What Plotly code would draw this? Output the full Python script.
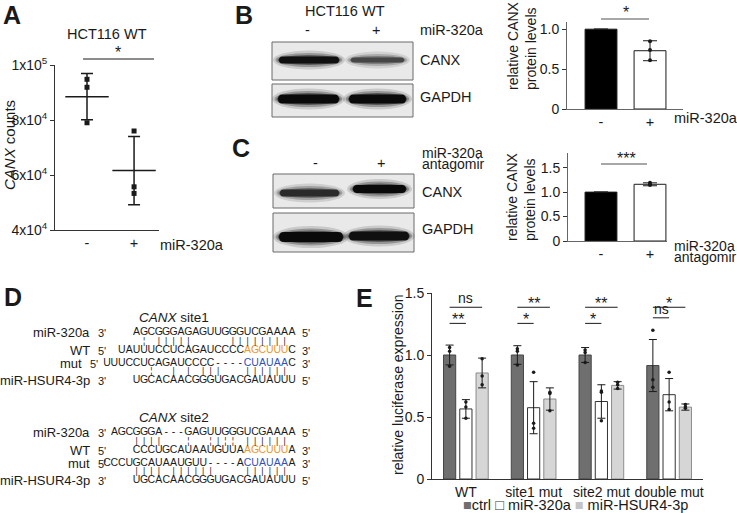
import plotly.graph_objects as go

W, H = 737, 513
FONT = 'Arial, Liberation Sans, sans-serif'
INK = '#1a1a1a'

# ---------------- data ----------------
# A: CANX read counts in HCT116 WT
a_labels = ['-', '+']
a_minus_pts = [94800, 91900, 79000]
a_plus_pts = [76000, 55700, 53300]
a_means = [88500, 61600]
a_sd = [8400, 12400]
a_ticks = [40000, 60000, 80000, 100000]
a_ticktext = ['4x10<sup>4</sup>', '6x10<sup>4</sup>', '8x10<sup>4</sup>', '1x10<sup>5</sup>']

# B: CANX protein after miR-320a
b_labels = ['-', '+']
b_values = [1.0, 0.73]
b_err = [0, 0.125]
b_pts = [0.85, 0.74, 0.61]

# C: CANX protein after miR-320a antagomir
c_labels = ['-', '+']
c_values = [1.0, 1.16]
c_err = [0, 0.03]
c_pts = [1.19, 1.15, 1.15]

# western blot band strength (0 = empty, 1 = saturated)
b_blot_canx = [0.97, 0.72]
b_blot_gapdh = [1.0, 1.0]
c_blot_canx = [0.85, 1.0]
c_blot_gapdh = [1.0, 0.97]

# D: alignments, (text, colour) segments per row
site1_mir320 = [('AGCGGGAGAGUUGGGUCGAAAA', INK)]
site1_wt = [('UAUUUCCUCAGAUCCCC', INK), ('AGCUUU', '#f0961e'), ('C', INK)]
site1_mut = [('UUUCCUCAGAUCCCC----', INK), ('CUAUAA', '#2f4fc0'), ('C', INK)]
site1_hsur = [('UGCACAACGGGUGACGAUAUUU', INK)]
site1_top = '     ¦ |||||     ||||||||'
site1_bot = '      ¦  | | |||   ||||||'

site2_mir320 = [('AGCGGGA---GAGUUGGGUCGAAAA', INK)]
site2_wt = [('CCCUGCAUAAUGUUA', INK), ('AGCUUU', '#f0961e'), ('A', INK)]
site2_mut = [('CCCUGCAUAAUGUU----A', INK), ('CUAUAA', '#2f4fc0'), ('A', INK)]
site2_hsur = [('UGCACAACGGGUGACGAUAUUU', INK)]
site2_top = '    ||||   ¦  ¦|¦¦ ||||||'
site2_bot = '    |||| ||||||    ||||||'

# E: luciferase reporter
e_groups = ['WT', 'site1 mut', 'site2 mut', 'double mut']
e_ctrl = [1.0, 1.0, 1.0, 0.915]
e_ctrl_err = [0.08, 0.075, 0.06, 0.21]
e_320a = [0.565, 0.575, 0.625, 0.68]
e_320a_err = [0.075, 0.21, 0.135, 0.13]
e_hsur = [0.855, 0.645, 0.755, 0.58]
e_hsur_err = [0.12, 0.09, 0.03, 0.025]
e_ctrl_pts = [[1.06, 1.03, 0.91], [1.05, 1.03, 0.92], [1.04, 1.02, 0.94], [1.2, 0.80, 0.74]]
e_320a_pts = [[0.62, 0.58, 0.49], [0.86, 0.45, 0.41], [0.71, 0.70, 0.47], [0.86, 0.62, 0.56]]
e_hsur_pts = [[0.97, 0.83, 0.76], [0.70, 0.69, 0.55], [0.78, 0.76, 0.73], [0.60, 0.58, 0.57]]


def px(x):
    return x / W


def py(y):
    return 1 - y / H


fig = go.Figure()
shapes = []
notes = []


def note(x, y, text, size=14.5, xanchor='center', yanchor='middle', **kw):
    notes.append(dict(x=px(x), y=py(y), xref='paper', yref='paper', text=text, showarrow=False,
                      xanchor=xanchor, yanchor=yanchor, font=dict(size=size, color=INK, family=FONT), **kw))


def hline(x0, x1, y, color=INK, width=1.2):
    shapes.append(dict(type='line', xref='paper', yref='paper', x0=px(x0), x1=px(x1), y0=py(y), y1=py(y),
                       line=dict(color=color, width=width)))


def blot_box(x0, y0, x1, y1):
    shapes.append(dict(type='rect', xref='paper', yref='paper', x0=px(x0), x1=px(x1), y0=py(y1), y1=py(y0),
                       fillcolor='#e9e9e9', line=dict(color='#6a6a6a', width=1)))


def band(x0, x1, yc, h, level):
    g = int(225 - 215 * level)
    # soft halo then rounded core
    for grow, op in [(6, 0.14), (3.5, 0.28), (1.5, 0.45)]:
        shapes.append(dict(type='circle', xref='paper', yref='paper', x0=px(x0 - grow), x1=px(x1 + grow),
                           y0=py(yc + h / 2 + grow), y1=py(yc - h / 2 - grow),
                           fillcolor=f'rgba({g},{g},{g},{op})', line_width=0))
    r = h / 2
    path = (f'M {px(x0 + r)},{py(yc - r)} L {px(x1 - r)},{py(yc - r)} '
            f'Q {px(x1)},{py(yc - r)} {px(x1)},{py(yc)} Q {px(x1)},{py(yc + r)} {px(x1 - r)},{py(yc + r)} '
            f'L {px(x0 + r)},{py(yc + r)} Q {px(x0)},{py(yc + r)} {px(x0)},{py(yc)} '
            f'Q {px(x0)},{py(yc - r)} {px(x0 + r)},{py(yc - r)} Z')
    shapes.append(dict(type='path', xref='paper', yref='paper', path=path,
                       fillcolor=f'rgb({g},{g},{g})', line_width=0))


# ---------------- panel letters ----------------
for letter, x, y in [('A', 12, 15), ('B', 244, 15), ('C', 241, 148), ('D', 13, 297), ('E', 364, 298)]:
    note(x, y, f'<b>{letter}</b>', size=25)

# ---------------- A ----------------
fig.add_trace(go.Scatter(x=[0, 1], y=a_means, mode='markers', xaxis='x', yaxis='y',
                         marker=dict(symbol='line-ew', size=31, line=dict(color=INK, width=1.5)),
                         error_y=dict(type='data', array=a_sd, color=INK, thickness=1.5, width=6)))
fig.add_trace(go.Scatter(x=[0] * len(a_minus_pts) + [1] * len(a_plus_pts), y=a_minus_pts + a_plus_pts,
                         mode='markers', xaxis='x', yaxis='y',
                         marker=dict(symbol='square', size=5, color=INK)))
note(107, 34, 'HCT116 WT')
hline(83, 154, 59)
note(118, 52, '*', size=16)
note(158, 245, 'miR-320a', xanchor='left')
note(9, 145, '<i>CANX</i> counts', size=15, textangle=-90)

# ---------------- B ----------------
note(345, 11, 'HCT116 WT')
note(307, 30, '-')
note(376, 30, '+')
note(418, 30, 'miR-320a', xanchor='left')
blot_box(272, 42, 413, 80)
blot_box(272, 84, 413, 117)
band(279, 339, 60, 7, b_blot_canx[0])
band(351, 404, 60, 5, b_blot_canx[1])
band(278, 339, 99, 9, b_blot_gapdh[0])
band(349, 406, 99, 9, b_blot_gapdh[1])
note(418, 60, 'CANX', xanchor='left')
note(418, 97, 'GAPDH', xanchor='left')

fig.add_trace(go.Bar(x=[0, 1], y=b_values, width=0.65, xaxis='x2', yaxis='y2',
                     marker=dict(color=['black', 'white'], line=dict(color=INK, width=1)),
                     error_y=dict(type='data', array=b_err, color=INK, thickness=1, width=7)))
fig.add_trace(go.Scatter(x=[1] * len(b_pts), y=b_pts, mode='markers', xaxis='x2', yaxis='y2',
                         marker=dict(size=4, color=INK)))
hline(601, 649, 19, color='#8a8a8a', width=1.5)
note(626, 12, '*', size=16)
note(672, 118, 'miR-320a', xanchor='left')
note(522, 46, 'relative CANX<br>protein levels', size=14, textangle=-90, align='left')

# ---------------- C ----------------
note(315, 163, '-')
note(381, 163, '+')
note(420, 152.5, 'miR-320a', size=14, xanchor='left')
note(420, 164, 'antagomir', size=14, xanchor='left')
blot_box(273, 174, 414, 208)
blot_box(273, 213, 414, 252)
band(280, 339, 193, 7, c_blot_canx[0])
band(353, 406, 189, 8, c_blot_canx[1])
band(279, 343, 237, 10, c_blot_gapdh[0])
band(349, 409, 236, 9, c_blot_gapdh[1])
note(420, 192, 'CANX', xanchor='left')
note(420, 229, 'GAPDH', xanchor='left')

fig.add_trace(go.Bar(x=[0, 1], y=c_values, width=0.65, xaxis='x3', yaxis='y3',
                     marker=dict(color=['black', 'white'], line=dict(color=INK, width=1)),
                     error_y=dict(type='data', array=c_err, color=INK, thickness=1, width=7)))
fig.add_trace(go.Scatter(x=[1] * len(c_pts), y=c_pts, mode='markers', xaxis='x3', yaxis='y3',
                         marker=dict(size=4, color=INK)))
hline(601, 647, 164, color='#8a8a8a', width=1.5)
note(626, 158, '***', size=16)
note(672, 245.5, 'miR-320a', size=14, xanchor='left')
note(672, 257, 'antagomir', size=14, xanchor='left')
note(521, 197, 'relative CANX<br>protein levels', size=14, textangle=-90, align='left')

# ---------------- D ----------------
COL0, COLW = 107, 7.4


def seq_row(segments, start, y):
    col = start
    for text, color in segments:
        fig.add_trace(go.Scatter(x=[col + i for i in range(len(text))], y=[y] * len(text), text=list(text),
                                 mode='text', xaxis='x4', yaxis='y4', hoverinfo='skip',
                                 textfont=dict(size=10.5, color=color, family=FONT)))
        col += len(text)


def mark_row(marks, y):
    cols = [i for i, ch in enumerate(marks) if ch != ' ']
    fig.add_trace(go.Scatter(x=cols, y=[y] * len(cols), text=[marks[i] for i in cols], mode='text',
                             xaxis='x4', yaxis='y4', hoverinfo='skip',
                             textfont=dict(size=8.5, color=INK, family=FONT)))


def site(title, rows, top, bot, y0, mut_shift):
    note(174, y0, title, size=13.5)
    ys = [y0 + 15, y0 + 33, y0 + 46, y0 + 63]
    names = [('miR-320a', "3'"), ('WT', "5'"), ('mut', "5'"), ('miR-HSUR4-3p', "3'")]
    ends = ["5'", "3'", "3'", "5'"]
    for r, ((segs, start), (name, p5), end, y) in enumerate(zip(rows, names, ends, ys)):
        seq_row(segs, start, y)
        shift = mut_shift if r == 2 else 0
        note(92 - shift, y, name, size=13, xanchor='right')
        note(96 - shift, y + 0.5, p5, size=11, xanchor='left')
        note(300, y + 0.5, end, size=11, xanchor='left')
    mark_row(top, y0 + 25)
    mark_row(bot, y0 + 55)


site('<i>CANX</i> site1', [(site1_mir320, 4), (site1_wt, 2), (site1_mut, 0), (site1_hsur, 4)],
     site1_top, site1_bot, 317, 8)
site('<i>CANX</i> site2', [(site2_mir320, 1), (site2_wt, 4), (site2_mut, 0), (site2_hsur, 4)],
     site2_top, site2_bot, 417, 0)

# ---------------- E ----------------
SLOT = (1 - 0.28) / 3
series = [('ctrl', e_ctrl, e_ctrl_err, e_ctrl_pts, '#6f6f6f', '#454545'),
          ('miR-320a', e_320a, e_320a_err, e_320a_pts, 'white', '#333333'),
          ('miR-HSUR4-3p', e_hsur, e_hsur_err, e_hsur_pts, '#d6d6d6', '#8c8c8c')]
xs = list(range(len(e_groups)))
for k, (name, vals, errs, pts, fill, edge) in enumerate(series):
    fig.add_trace(go.Bar(x=xs, y=vals, name=name, xaxis='x5', yaxis='y5',
                         marker=dict(color=fill, line=dict(color=edge, width=1)),
                         error_y=dict(type='data', array=errs, color=INK, thickness=1, width=4)))
for k, (name, vals, errs, pts, fill, edge) in enumerate(series):
    xp, yp = [], []
    for i, group_pts in enumerate(pts):
        xp += [i + (k - 1) * SLOT] * len(group_pts)
        yp += group_pts
    fig.add_trace(go.Scatter(x=xp, y=yp, mode='markers', xaxis='x5', yaxis='y5',
                             marker=dict(size=3.5, color=INK)))

# significance brackets: (group, from slot, to slot, y, label)
e_sig = [(0, -1, 1, 1.385, 'ns'), (0, -1, 0, 1.255, '**'),
         (1, -1, 1, 1.385, '**'), (1, -1, 0, 1.255, '*'),
         (2, -1, 1, 1.385, '**'), (2, -1, 0, 1.255, '*'),
         (3, -1, 1, 1.385, '*'), (3, -1, 0, 1.300, 'ns')]
for g, a, b, yv, lab in e_sig:
    shapes.append(dict(type='line', xref='x5', yref='y5', x0=g + a * SLOT, x1=g + b * SLOT, y0=yv, y1=yv,
                       line=dict(color=INK, width=1)))
    star = '*' in lab
    notes.append(dict(x=g + (a + b) / 2 * SLOT, y=yv, xref='x5', yref='y5', text=lab, showarrow=False,
                      yanchor='bottom', yshift=-7 if star else -1,
                      font=dict(size=16 if star else 14, color=INK, family=FONT)))
note(398, 385, 'relative luciferase expression', size=14, textangle=-90)
note(461, 505, '<span style="color:#6f6f6f">■</span>ctrl '
               '<span style="color:#333333">□</span> miR-320a '
               '<span style="color:#c4c4c4">■</span> miR-HSUR4-3p', size=14.5, xanchor='left')

# ---------------- layout ----------------
axis_common = dict(showgrid=False, zeroline=False, showline=True, linecolor='#333333', linewidth=1,
                   tickfont=dict(size=14, color=INK, family=FONT), ticklen=4, tickcolor='#333333',
                   automargin=False)

fig.update_layout(
    width=W, height=H, margin=dict(l=0, r=0, t=0, b=0, pad=0, autoexpand=False),
    paper_bgcolor='white', plot_bgcolor='white', showlegend=False,
    font=dict(family=FONT, color=INK), barmode='group', bargap=0.28, bargroupgap=0.25,
    xaxis=dict(axis_common, domain=[px(55), px(159)], range=[-0.68, 1.53], anchor='y',
               tickvals=[0, 1], ticktext=a_labels, ticks='', tickfont=dict(size=14.5)),
    yaxis=dict(axis_common, domain=[py(230), py(65)], range=[40000, 100000], anchor='x',
               tickvals=a_ticks, ticktext=a_ticktext, ticks='outside'),
    xaxis2=dict(axis_common, domain=[px(567), px(683)], range=[-0.694, 1.673], anchor='y2',
                tickvals=[0, 1], ticktext=b_labels, ticks='', linecolor='#666666', tickfont=dict(size=14.5)),
    yaxis2=dict(axis_common, domain=[py(109), py(22)], range=[0, 1.09], anchor='x2',
                tickvals=[0, 0.5, 1.0], ticktext=['0', '0.5', '1.0'], ticks='outside', linecolor='#666666'),
    xaxis3=dict(axis_common, domain=[px(568), px(667)], range=[-0.673, 1.347], anchor='y3',
                tickvals=[0, 1], ticktext=c_labels, ticks='', linecolor='#666666', tickfont=dict(size=14.5)),
    yaxis3=dict(axis_common, domain=[py(241), py(153)], range=[0, 1.8], anchor='x3',
                tickvals=[0, 0.5, 1.0, 1.5], ticktext=['0', '0.5', '1.0', '1.5'], ticks='outside',
                linecolor='#666666'),
    xaxis4=dict(domain=[0, px(330)], range=[-COL0 / COLW, (330 - COL0) / COLW], visible=False, anchor='y4'),
    yaxis4=dict(domain=[0, py(285)], range=[513, 285], visible=False, anchor='x4'),
    xaxis5=dict(axis_common, domain=[px(432), px(703)], range=[-0.5, 3.5], anchor='y5',
                tickvals=xs, ticktext=e_groups, ticks=''),
    yaxis5=dict(axis_common, domain=[py(479), py(293)], range=[0, 1.5], anchor='x5',
                tickvals=[0, 0.5, 1.0, 1.5], ticktext=['0', '0.5', '1.0', '1.5'], ticks='outside'),
    shapes=shapes, annotations=notes,
)

# the page's default 8px body margin would push the figure off its frame
fig.write_html('out.html', config={'displayModeBar': False},
               post_script="document.body.style.margin='0';")
